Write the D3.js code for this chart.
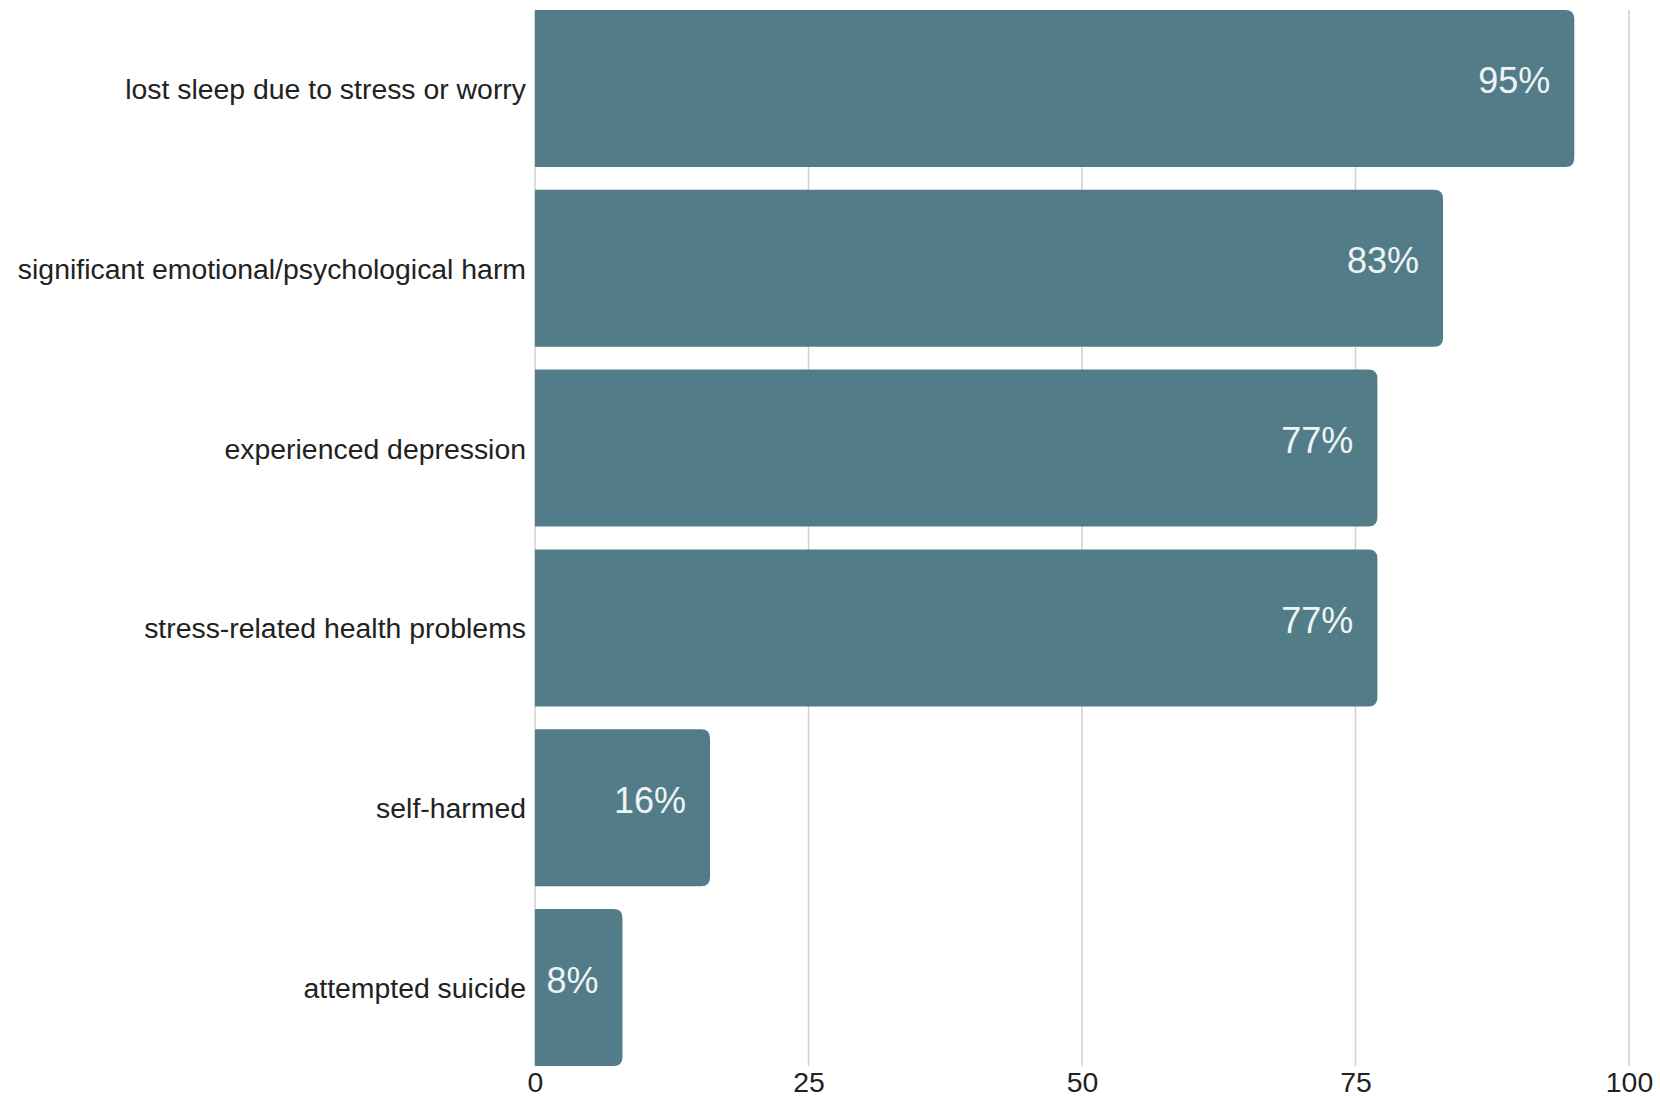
<!DOCTYPE html>
<html>
<head>
<meta charset="utf-8">
<script src="https://cdn.jsdelivr.net/npm/d3@7"></script>
<style>
html,body{margin:0;padding:0;background:#fff;}
svg{display:block;font-family:"Liberation Sans",Arial,sans-serif;}
</style>
</head>
<body>
<svg id="chart" width="1660" height="1098"></svg>
<script>
const categories = [
  "lost sleep due to stress or worry",
  "significant emotional/psychological harm",
  "experienced depression",
  "stress-related health problems",
  "self-harmed",
  "attempted suicide"
];
const values = [95, 83, 77, 77, 16, 8];
const valueLabels = ["95%", "83%", "77%", "77%", "16%", "8%"];
const tickValues = [0, 25, 50, 75, 100];

const svg = d3.select("#chart");
const x = d3.scaleLinear().domain([0, 100]).range([535, 1629]);
const y = d3.scaleBand().domain(categories).range([10, 1066]).paddingInner(0.127).paddingOuter(0);

const barColor = "#527d88";
const gridColor = "#d0d0d0";

// gridlines
svg.append("g").selectAll("line").data(tickValues).join("line")
  .attr("x1", d => x(d)).attr("x2", d => x(d))
  .attr("y1", 10).attr("y2", 1066)
  .attr("stroke", gridColor).attr("stroke-width", 1.5);

// bars with rounded right corners
const r = 9;
function barPath(d, i) {
  const x0 = x(0), x1 = x(values[i]), y0 = y(categories[i]), h = y.bandwidth();
  const rr = Math.min(r, (x1 - x0) / 2);
  return `M${x0},${y0}H${x1 - rr}Q${x1},${y0} ${x1},${y0 + rr}V${y0 + h - rr}Q${x1},${y0 + h} ${x1 - rr},${y0 + h}H${x0}Z`;
}
svg.append("g").selectAll("path").data(values).join("path")
  .attr("d", barPath)
  .attr("fill", barColor);

// value labels
svg.append("g").selectAll("text").data(values).join("text")
  .attr("x", (d) => x(d) - 24)
  .attr("y", (d, i) => y(categories[i]) + y.bandwidth() / 2 + 5)
  .attr("text-anchor", "end")
  .attr("font-size", 36)
  .attr("fill", "#eef4f5")
  .text((d, i) => valueLabels[i]);

// category labels
const yAxis = d3.axisLeft(y).tickSize(0).tickPadding(9);
const gy = svg.append("g").attr("transform", `translate(${x(0)},1.5)`).call(yAxis);
gy.select(".domain").remove();
gy.selectAll("text").attr("font-size", 28.4).attr("fill", "#222").attr("font-family", "Liberation Sans, Arial, sans-serif");

// x axis labels
const xAxis = d3.axisBottom(x).tickValues(tickValues).tickSize(0).tickPadding(0).tickFormat(d3.format("d"));
const gx = svg.append("g").attr("transform", `translate(0,1069)`).call(xAxis);
gx.select(".domain").remove();
gx.selectAll("text").attr("font-size", 28.4).attr("fill", "#222").attr("dy", "0.71em").attr("y", 3).attr("font-family", "Liberation Sans, Arial, sans-serif");
</script>
</body>
</html>
